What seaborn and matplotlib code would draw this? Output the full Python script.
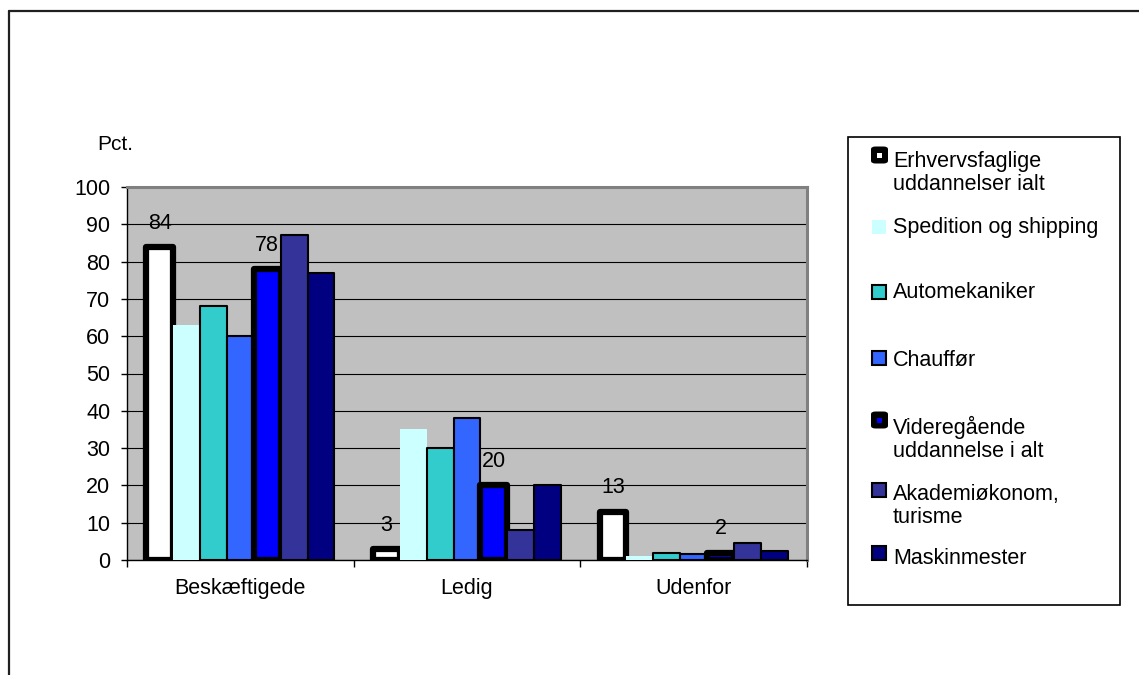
import matplotlib
matplotlib.use("Agg")
import matplotlib.pyplot as plt
from matplotlib.lines import Line2D
from matplotlib.patches import Rectangle, FancyBboxPatch
import pandas as pd
import seaborn as sns

CATEGORIES = ["Beskæftigede", "Ledig", "Udenfor"]
SERIES = [
    "Erhvervsfaglige\nuddannelser ialt",
    "Spedition og shipping",
    "Automekaniker",
    "Chauffør",
    "Videregående\nuddannelse i alt",
    "Akademiøkonom,\nturisme",
    "Maskinmester",
]
ERHVERV = [84, 3, 13]
SPEDITION = [63, 35, 1]
AUTO = [68, 30, 2]
CHAUFFOER = [60, 38, 1.5]
VIDEREG = [78, 20, 2]
AKADEMI = [87, 8, 4.5]
MASKIN = [77, 20, 2.5]
VALUES = [ERHVERV, SPEDITION, AUTO, CHAUFFOER, VIDEREG, AKADEMI, MASKIN]

COLORS = ["#FFFFFF", "#CCFFFF", "#33CCCC", "#3366FF", "#0000FF", "#333399", "#000080"]
EDGE_LW = [4.5, 0, 1.5, 1.5, 4.5, 1.5, 1.5]
LABELLED = [True, False, False, False, True, False, False]

W, H = 1139, 675
FS = 15.5


def fx(px):
    return px / W


def fy(py):
    return 1 - py / H


rows = []
for name, vals in zip(SERIES, VALUES):
    for cat, v in zip(CATEGORIES, vals):
        rows.append({"status": cat, "series": name, "pct": v})
df = pd.DataFrame(rows)

sns.set_theme(style="white")
plt.rcParams["font.family"] = ["Liberation Sans", "DejaVu Sans"]
plt.rcParams["text.color"] = "black"
plt.rcParams["xtick.color"] = "black"
plt.rcParams["ytick.color"] = "black"
plt.rcParams["xtick.labelcolor"] = "black"
plt.rcParams["ytick.labelcolor"] = "black"

fig = plt.figure(figsize=(W / 100, H / 100), dpi=100)
ax = fig.add_axes([fx(127), fy(560), fx(807) - fx(127), fy(187) - fy(560)])
ax.set_facecolor("#C0C0C0")

sns.barplot(
    data=df, x="status", y="pct", hue="series", hue_order=SERIES,
    palette=dict(zip(SERIES, COLORS)), order=CATEGORIES,
    width=0.83, saturation=1, errorbar=None, legend=False, ax=ax,
)

for i, cont in enumerate(ax.containers):
    for bar in cont:
        bar.set_zorder(3)
        if EDGE_LW[i] > 0:
            bar.set_edgecolor("black")
            bar.set_linewidth(EDGE_LW[i])
            bar.set_joinstyle("round")
        else:
            bar.set_linewidth(0)
    if LABELLED[i]:
        for bar, v in zip(cont, VALUES[i]):
            ax.annotate(
                f"{v:.0f}",
                (bar.get_x() + bar.get_width() / 2, bar.get_height()),
                xytext=(0, 17), textcoords="offset points",
                ha="center", va="center", fontsize=FS, color="black", zorder=5,
            )

ax.set_ylim(0, 100)
ax.set_xlim(-0.5, 2.5)
ax.set_yticks(range(0, 101, 10))
ax.yaxis.grid(True, color="black", linewidth=0.8, zorder=1)
ax.set_axisbelow(True)
ax.set_xlabel("")
ax.set_ylabel("")
ax.tick_params(axis="y", direction="out", length=4, width=1, color="black",
               labelsize=FS, pad=8, left=True)
ax.tick_params(axis="x", which="major", length=0, labelsize=FS, pad=13)
ax.set_xticks([-0.5, 0.5, 1.5, 2.5], minor=True)
ax.tick_params(axis="x", which="minor", direction="out", length=5, width=1,
               color="black", bottom=True)
for side in ["left", "bottom"]:
    ax.spines[side].set_color("black")
    ax.spines[side].set_linewidth(1)
for side in ["top", "right"]:
    ax.spines[side].set_color("#808080")
    ax.spines[side].set_linewidth(2.2)

fig.text(fx(97), fy(144), "Pct.", ha="left", va="center", fontsize=15)

# legend box
fig.patches.append(Rectangle((fx(848), fy(605)), fx(1120) - fx(848), fy(137) - fy(605),
                             transform=fig.transFigure, facecolor="white",
                             edgecolor="black", linewidth=1.2, zorder=1))
handle_y = [155, 227, 292, 358, 420, 490, 553]
text_y = [173, 228, 293, 360, 439, 506, 559]
for i, name in enumerate(SERIES):
    cy = handle_y[i]
    if EDGE_LW[i] > 3:
        s = 17
        fig.patches.append(FancyBboxPatch((fx(871), fy(cy + s / 2)), fx(s), s / H,
                                          boxstyle="round,pad=0,rounding_size=0.004",
                                          transform=fig.transFigure, facecolor="black",
                                          edgecolor="black", linewidth=0, zorder=2))
        fig.patches.append(Rectangle((fx(877), fy(cy + 2.5)), fx(5), 5 / H,
                                     transform=fig.transFigure, facecolor=COLORS[i],
                                     edgecolor="none", zorder=3))
    else:
        s = 14
        fig.patches.append(Rectangle((fx(872), fy(cy + s / 2)), fx(s), s / H,
                                     transform=fig.transFigure, facecolor=COLORS[i],
                                     edgecolor="black" if EDGE_LW[i] > 0 else "none",
                                     linewidth=1.5, zorder=2))
    fig.text(fx(893), fy(text_y[i]), name, ha="left", va="center", fontsize=FS,
             linespacing=1.12, color="black", zorder=4)

# outer frame
fig.lines.append(Line2D([fx(9), fx(9)], [0, fy(11)], transform=fig.transFigure,
                        color="#202020", linewidth=1.6))
fig.lines.append(Line2D([fx(9), 1], [fy(11), fy(11)], transform=fig.transFigure,
                        color="#202020", linewidth=1.6))

fig.savefig("out.png", dpi=100, facecolor="white")
